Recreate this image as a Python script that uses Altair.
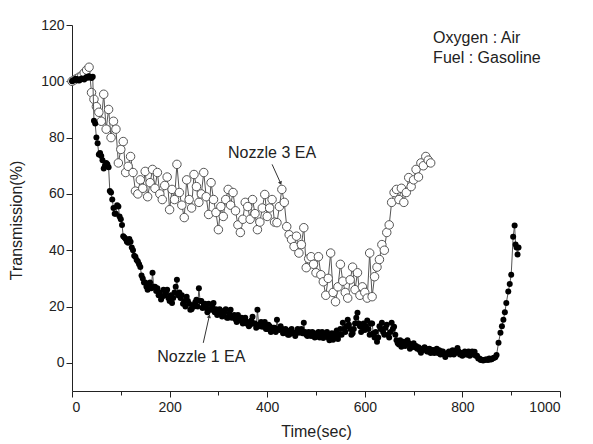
import altair as alt
import pandas as pd

# ---- Nozzle 1 EA (filled circles) ----
n1_time = [
    0, 2.5, 5, 7.5, 10, 12.5, 15, 17.5, 20, 22.5,
    25, 27.5, 30, 32.5, 35, 37.5, 40, 42.5, 45, 47.5,
    50, 52.5, 55, 57.5, 60, 62.5, 65, 67.5, 70, 72.5,
    75, 77.5, 80, 82.5, 85, 87.5, 90, 92.5, 95, 97.5,
    100, 102.5, 105, 107.5, 110, 112.5, 115, 117.5, 120, 122.5,
    125, 127.5, 130, 132.5, 135, 137.5, 140, 142.5, 145, 147.5,
    150, 152.5, 155, 157.5, 160, 162.5, 165, 167.5, 170, 172.5,
    175, 177.5, 180, 182.5, 185, 187.5, 190, 192.5, 195, 197.5,
    200, 202.5, 205, 207.5, 210, 212.5, 215, 217.5, 220, 222.5,
    225, 227.5, 230, 232.5, 235, 237.5, 240, 242.5, 245, 247.5,
    250, 252.5, 255, 257.5, 260, 262.5, 265, 267.5, 270, 272.5,
    275, 277.5, 280, 282.5, 285, 287.5, 290, 292.5, 295, 297.5,
    300, 302.5, 305, 307.5, 310, 312.5, 315, 317.5, 320, 322.5,
    325, 327.5, 330, 332.5, 335, 337.5, 340, 342.5, 345, 347.5,
    350, 352.5, 355, 357.5, 360, 362.5, 365, 367.5, 370, 372.5,
    375, 377.5, 380, 382.5, 385, 387.5, 390, 392.5, 395, 397.5,
    400, 402.5, 405, 407.5, 410, 412.5, 415, 417.5, 420, 422.5,
    425, 427.5, 430, 432.5, 435, 437.5, 440, 442.5, 445, 447.5,
    450, 452.5, 455, 457.5, 460, 462.5, 465, 467.5, 470, 472.5,
    475, 477.5, 480, 482.5, 485, 487.5, 490, 492.5, 495, 497.5,
    500, 502.5, 505, 507.5, 510, 512.5, 515, 517.5, 520, 522.5,
    525, 527.5, 530, 532.5, 535, 537.5, 540, 542.5, 545, 547.5,
    550, 552.5, 555, 557.5, 560, 562.5, 565, 567.5, 570, 572.5,
    575, 577.5, 580, 582.5, 585, 587.5, 590, 592.5, 595, 597.5,
    600, 602.5, 605, 607.5, 610, 612.5, 615, 617.5, 620, 622.5,
    625, 627.5, 630, 632.5, 635, 637.5, 640, 642.5, 645, 647.5,
    650, 652.5, 655, 657.5, 660, 662.5, 665, 667.5, 670, 672.5,
    675, 677.5, 680, 682.5, 685, 687.5, 690, 692.5, 695, 697.5,
    700, 702.5, 705, 707.5, 710, 712.5, 715, 717.5, 720, 722.5,
    725, 727.5, 730, 732.5, 735, 737.5, 740, 742.5, 745, 747.5,
    750, 752.5, 755, 757.5, 760, 762.5, 765, 767.5, 770, 772.5,
    775, 777.5, 780, 782.5, 785, 787.5, 790, 792.5, 795, 797.5,
    800, 802.5, 805, 807.5, 810, 812.5, 815, 817.5, 820, 822.5,
    825, 827.5, 830, 832.5, 835, 837.5, 840, 842.5, 845, 847.5,
    850, 852.5, 855, 857.5, 860, 862.5, 865, 867.5, 870,
    874, 878, 881, 884, 887, 890, 894, 897, 900, 904, 907, 909, 911, 913, 915,
]
n1_trans = [
    100, 100.3, 100.5, 100.9, 100.8, 100.4, 100.3, 100.7, 101, 100.8,
    100.6, 101.2, 101.5, 101.3, 101.8, 101.5, 101.2, 101.6, 86, 85,
    80, 78, 74, 74.5, 73.5, 72, 69, 70, 71, 70.5,
    69.5, 61, 60.5, 58, 55, 53, 53, 56, 55.5, 52,
    51, 49, 45, 44.5, 44, 43, 42.7, 44, 43, 41,
    40, 38, 37.7, 36.5, 36, 35, 34, 31, 30, 28.5,
    28.5, 27, 26, 27.5, 28.5, 26.5, 32, 27, 27, 25.5,
    26.5, 24, 25, 22.5, 23.5, 26, 24, 25, 26, 23,
    22, 24, 21.3, 23, 25, 27, 29.5, 24, 25, 23,
    24, 21, 22, 20, 23.5, 22, 21, 18.9, 19, 20.5,
    20, 21.5, 22.4, 20, 26.5, 22, 22, 19.5, 20.5, 21,
    19.5, 18, 21, 19, 18.9, 20, 21.3, 18, 19, 17,
    17.5, 19, 18.5, 16.5, 17, 18, 19, 16, 16, 17.5,
    18.9, 16, 16.4, 17, 15.5, 14.5, 17, 15.5, 15, 16,
    14, 15.5, 16, 14, 14.5, 13, 13.5, 15, 16.4, 14,
    14, 12.5, 18.9, 13.5, 13, 14.5, 12.8, 13.5, 14.5, 12,
    12, 13.5, 13, 11, 11.5, 12.5, 12.5, 11, 15.3, 12,
    11.7, 13, 12, 10.5, 10.7, 12, 11.5, 10, 10, 11.5,
    12, 10.5, 10.5, 9.5, 11, 12, 10.7, 11.5, 12, 10.5,
    14.2, 11, 10, 9.5, 11, 10, 9.5, 11, 10.5, 9,
    9.3, 10.5, 11, 9, 10, 11, 8.8, 9.5, 10, 11,
    9, 8, 9.5, 10.5, 8.2, 9, 10.5, 11.5, 8.5, 10,
    12, 10, 14.2, 12, 11, 13, 15.3, 13.5, 12, 10,
    10.5, 12, 14, 16, 17.8, 14, 13, 11, 12.8, 14,
    11.7, 13, 15, 12, 10, 14, 14, 10.5, 9, 11,
    7.5, 9, 13, 12, 14.2, 11, 10, 12.5, 13.5, 10,
    9, 11, 14.2, 12, 12.8, 10, 8, 7, 6.5, 8,
    5.7, 7, 7.5, 6, 6.5, 8, 7, 5, 5.5, 6.5,
    7, 5.5, 6, 5, 5.5, 4.5, 3.6, 5, 4.6, 5.5,
    5, 4, 4, 5, 3.5, 4.5, 4.6, 3.5, 4, 5,
    3.5, 4.5, 3, 4, 4, 3, 2.1, 3, 3.5, 4,
    3, 4, 4.5, 3, 3.5, 4.5, 5.3, 4, 3, 3.5,
    2.5, 3.5, 4, 3, 3, 4, 2.5, 3.5, 4, 3,
    3.9, 2.5, 2.5, 1.5, 1.5, 1, 1.1, 0.8, 1, 1.2,
    1.2, 1, 1.5, 1.2, 1.3, 1.6, 1.8, 2, 2.8,
    7.1, 10.7, 13, 15.3, 18, 21.3, 25.3, 28, 31.3, 44.8, 48.8, 42, 41, 38.5, 41,
]

# ---- Nozzle 3 EA (open circles) ----
n3_time = [
    0, 5, 10, 15, 20, 25, 30, 35, 40, 45,
    50, 55, 60, 65, 70, 75, 80, 85, 90, 95,
    100, 105, 110, 115, 120, 125, 130, 135, 140, 145,
    150, 155, 160, 165, 170, 175, 180, 185, 190, 195,
    200, 205, 210, 215, 220, 225, 230, 235, 240, 245,
    250, 255, 260, 265, 270, 275, 280, 285, 290, 295,
    300, 305, 310, 315, 320, 325, 330, 335, 340, 345,
    350, 355, 360, 365, 370, 375, 380, 385, 390, 395,
    400, 405, 410, 415, 420, 425, 430, 435, 440, 445,
    450, 455, 460, 465, 470, 475, 480, 485, 490, 495,
    500, 505, 510, 515, 520, 525, 530, 535, 540, 545,
    550, 555, 560, 565, 570, 575, 580, 585, 590, 595,
    600, 605, 610, 615, 620, 625, 630, 635, 640, 645,
    650, 655, 660, 665, 670, 675, 680, 685, 690, 695,
    700, 705, 710, 715, 720, 725, 730, 735,
]
n3_trans = [
    100, 100.5, 101, 101.5, 102, 103, 104, 105, 96, 93.6,
    91, 89, 85.8, 95.4, 83, 90, 80, 85.8, 83, 71,
    75.8, 78.6, 67.6, 69.8, 73.3, 67.6, 61, 60, 65, 62,
    68, 59, 64, 68.7, 62, 67.6, 60, 58, 63, 66,
    54.4, 61.6, 58, 70.5, 60.5, 56, 51.6, 65, 58, 55,
    66.9, 62.6, 57, 60, 67.6, 59, 52.7, 64, 58, 53.4,
    47.3, 55.5, 52, 58, 61.6, 56, 60.5, 54, 49, 46.3,
    51, 57, 55.5, 51, 58, 53, 47.3, 50, 55, 59.8,
    52, 55, 58, 50, 49.8, 55.5, 61.6, 57, 48.4, 45.5,
    43.8, 41.3, 45, 39, 42, 48, 33.8, 37, 37.7, 35,
    32, 37.7, 31.3, 28.8, 24, 30, 39, 25, 21.7, 27,
    35, 29, 25, 23, 29.5, 34, 26, 32, 24, 27,
    25, 23, 39, 23.5, 30.6, 34, 36.7, 42, 40, 46.3,
    49, 57, 60.5, 61.6, 58, 62, 57, 60.5, 65.8, 62.6,
    65, 68.7, 66, 71, 70, 73.3, 72, 71,
]

x_ticks = [0, 100, 200, 300, 400, 500, 600, 700, 800, 900, 1000]
y_ticks = [0, 10, 20, 30, 40, 50, 60, 70, 80, 90, 100, 110, 120]

ann_text = ["Nozzle 3 EA", "Nozzle 1 EA", "Oxygen : Air", "Fuel : Gasoline"]
ann_x = [410, 265, 740, 740]
ann_y = [74.4, 2.1, 115.3, 108.2]
ann_align = ["center", "center", "left", "left"]

arrow_x = [410, 269]
arrow_y = [70.5, 7.1]
arrow_x2 = [427, 281]
arrow_y2 = [64, 16.4]
arrow_angle = [156, 13]

FONT = "Liberation Sans"
INK = "#222222"

df1 = pd.DataFrame({"t": n1_time, "v": n1_trans})
df3 = pd.DataFrame({"t": n3_time, "v": n3_trans})
ann = pd.DataFrame({"text": ann_text, "x": ann_x, "y": ann_y, "align": ann_align})
arr = pd.DataFrame({"x": arrow_x, "y": arrow_y, "x2": arrow_x2, "y2": arrow_y2,
                    "angle": arrow_angle})

xscale = alt.Scale(domain=[0, 1000], nice=False, zero=False)
yscale = alt.Scale(domain=[-10, 120], nice=False, zero=False)

xaxis = alt.Axis(
    title="Time(sec)", values=x_ticks, grid=False,
    labelExpr="datum.value % 200 === 0 ? datum.label : ''",
    tickSize={"condition": {"test": "datum.value % 200 === 0", "value": 6}, "value": 4},
    domainColor=INK, tickColor=INK, labelColor=INK, titleColor=INK,
    labelFont=FONT, titleFont=FONT, labelFontSize=14, titleFontSize=16,
    titleFontWeight="normal", labelPadding=3, titlePadding=9, format="d",
)
yaxis = alt.Axis(
    title="Transmission(%)", values=y_ticks, grid=False,
    labelExpr="datum.value % 20 === 0 ? datum.label : ''",
    tickSize={"condition": {"test": "datum.value % 20 === 0", "value": 6}, "value": 4},
    domainColor=INK, tickColor=INK, labelColor=INK, titleColor=INK,
    labelFont=FONT, titleFont=FONT, labelFontSize=14, titleFontSize=16,
    titleFontWeight="normal", labelPadding=2, titlePadding=16, format="d",
    titleY=195,
)

x_enc = alt.X("t:Q", scale=xscale, axis=xaxis)
y_enc = alt.Y("v:Q", scale=yscale, axis=yaxis)

line3 = alt.Chart(df3).mark_line(color="#555555", strokeWidth=1).encode(x=x_enc, y=y_enc)
pts3 = alt.Chart(df3).mark_point(shape="circle", filled=False, fill="white",
                                 stroke="#555555", strokeWidth=1, size=72,
                                 opacity=1).encode(x="t:Q", y="v:Q")
line1 = alt.Chart(df1).mark_line(color="#555555", strokeWidth=1).encode(x="t:Q", y="v:Q")
pts1 = alt.Chart(df1).mark_point(shape="circle", filled=True, color="#000000",
                                 size=36, opacity=1).encode(x="t:Q", y="v:Q")

texts_c = alt.Chart(ann[ann["align"] == "center"]).mark_text(
    font=FONT, fontSize=16, color=INK, baseline="middle", align="center"
).encode(x="x:Q", y="y:Q", text="text:N")
texts_l = alt.Chart(ann[ann["align"] == "left"]).mark_text(
    font=FONT, fontSize=16, color=INK, baseline="middle", align="left"
).encode(x="x:Q", y="y:Q", text="text:N")

arrows = alt.Chart(arr).mark_rule(color="#333333", strokeWidth=1).encode(
    x="x:Q", y="y:Q", x2="x2:Q", y2="y2:Q")
heads = alt.Chart(arr).mark_point(shape="triangle", filled=True, color="#333333",
                                  size=18, opacity=1).encode(
    x="x2:Q", y="y2:Q", angle=alt.Angle("angle:Q", scale=None))

chart = alt.layer(line3, pts3, line1, pts1, arrows, heads, texts_c, texts_l).properties(
    width=488, height=366,
    autosize=alt.AutoSizeParams(type="none"),
    padding={"left": 72, "top": 25, "right": 33, "bottom": 53},
    background="white",
).configure_view(stroke=None)

chart.save("out.html", embed_options={"renderer": "svg", "actions": False})
